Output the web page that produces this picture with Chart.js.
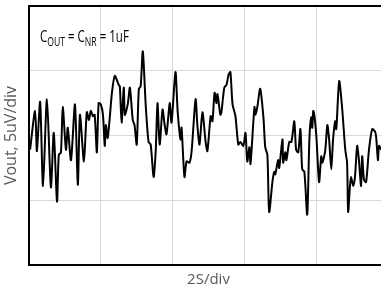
<!DOCTYPE html>
<html>
<head>
<meta charset="utf-8">
<script src="https://cdn.jsdelivr.net/npm/chart.js@4/dist/chart.umd.min.js"></script>
<style>
html,body{margin:0;padding:0;background:#fff;overflow:hidden;width:381px;height:293px;}
#wrap{position:absolute;left:0;top:0;width:400px;height:293px;}
</style>
</head>
<body>
<div id="wrap"><canvas id="c" width="400" height="293"></canvas></div>
<script>
// Time (s) and output noise voltage (uV)
const timeS = [0.03,0.17,0.22,0.31,0.39,0.50,0.61,0.69,0.78,0.83,0.89,0.94,1.03,1.08,1.17,1.28,1.36,1.42,1.53,1.61,1.67,1.72,1.78,1.83,1.89,1.94,2.00,2.06,2.11,2.14,2.19,2.25,2.31,2.39,2.50,2.53,2.58,2.64,2.67,2.75,2.81,2.89,2.94,3.00,3.06,3.11,3.17,3.25,3.33,3.39,3.47,3.53,3.58,3.64,3.72,3.78,3.83,3.92,3.97,4.08,4.14,4.22,4.25,4.33,4.39,4.47,4.53,4.64,4.69,4.75,4.83,4.92,4.97,5.06,5.11,5.17,5.22,5.25,5.33,5.36,5.44,5.50,5.56,5.61,5.67,5.75,5.83,5.89,5.97,6.03,6.08,6.14,6.17,6.28,6.31,6.36,6.44,6.53,6.58,6.64,6.69,6.78,6.83,6.86,6.94,6.97,7.06,7.08,7.14,7.17,7.25,7.31,7.39,7.44,7.50,7.56,7.61,7.67,7.75,7.81,7.86,7.89,7.92,8.00,8.08,8.14,8.17,8.25,8.31,8.36,8.42,8.47,8.53,8.56,8.64,8.72,8.81,8.86,8.89,8.94,8.97,9.03,9.08,9.14,9.19,9.25,9.28,9.33,9.39,9.47,9.56,9.64,9.67,9.72,9.75,9.81];
const voutUV = [-1.1,1.9,-1.2,2.6,-3.9,2.8,-4.0,0.2,-5.1,-1.5,-1.3,2.2,-1.1,0.6,-1.9,2.4,-3.8,1.6,-2.0,1.8,1.2,1.9,1.5,1.6,-1.3,2.5,2.4,1.6,-0.8,0.8,-0.2,1.4,3.3,4.6,3.9,3.8,1.0,3.7,1.6,2.4,3.7,1.2,0.8,-0.7,3.6,3.8,6.5,2.4,-0.5,-0.7,-3.2,-1.2,2.5,-0.7,2.0,0.8,0.1,2.5,1.0,4.9,1.9,-0.3,0.6,-3.2,-2.0,-2.1,-1.2,2.8,0.8,-0.7,1.8,-0.5,-1.2,1.5,1.1,3.3,2.5,3.2,1.6,1.8,3.7,3.9,4.7,4.9,2.4,1.5,-0.7,-0.5,-0.8,0.2,-2.0,-0.9,-2.2,2.2,1.6,2.2,3.6,1.4,-0.9,-1.5,-5.9,-3.6,-2.8,-3.0,-1.9,-2.5,-0.3,-2.1,-1.3,-1.9,-0.5,-0.5,1.1,-1.1,-1.3,0.5,-2.6,-2.8,-6.1,-0.3,1.4,0.6,1.9,0.1,-3.6,-1.6,-2.1,-1.2,0.8,-0.3,-2.6,-0.3,1.1,0.5,4.2,2.2,-1.1,-2.1,-5.9,-3.9,-3.2,-3.9,-3.2,-0.8,-1.9,-3.9,-1.6,-3.4,-3.6,-1.1,0.5,0.3,-0.1,-1.9,-0.8,-1.1];
const xTitle = "2S/div";
const yTitle = "Vout, 5uV/div";
const noteParts = [["C",false],["OUT",true],[" = C",false],["NR",true],[" = 1uF",false]];

const points = timeS.map((t,i)=>({x:t,y:voutUV[i]}));
const FONT = "'Open Sans', 'Liberation Sans', sans-serif";

const boxPlugin = {
  id:'box',
  afterDraw(chart){
    const {ctx, chartArea:a} = chart;
    ctx.save();
    ctx.strokeStyle = '#000';
    ctx.lineWidth = 2;
    ctx.strokeRect(a.left, a.top, a.right-a.left, a.bottom-a.top);
    // annotation (narrow, Calibri-like proportions)
    ctx.translate(a.left + 11, a.top + 36);
    ctx.scale(0.72, 1);
    let x = 0;
    ctx.fillStyle = '#000';
    ctx.textBaseline = 'alphabetic';
    for (const [s,sub] of noteParts){
      ctx.font = (sub ? '12px ' : '16px ') + FONT;
      ctx.fillText(s, x, sub ? 3.5 : 0);
      x += ctx.measureText(s).width;
    }
    ctx.restore();
  }
};

new Chart(document.getElementById('c'), {
  type:'line',
  data:{datasets:[{data:points,borderColor:'#000',borderWidth:2,pointRadius:0,tension:0.25,fill:false}]},
  options:{
    responsive:false,
    animation:false,
    layout:{padding:{top:6,right:12,left:0,bottom:0}},
    plugins:{legend:{display:false},tooltip:{enabled:false}},
    scales:{
      x:{type:'linear',min:0,max:10,
        ticks:{display:false,stepSize:2},
        grid:{color:'#d9d9d9',lineWidth:1,drawTicks:false},
        border:{display:true,color:'#000',width:2},
        title:{display:true,text:xTitle,color:'#595959',font:{family:FONT,size:15},padding:{top:4,bottom:4}},
        afterFit(s){s.height=28;}
      },
      y:{min:-10,max:10,
        ticks:{display:false,stepSize:5},
        grid:{color:'#d9d9d9',lineWidth:1,drawTicks:false},
        border:{display:true,color:'#000',width:2},
        title:{display:true,text:yTitle,color:'#595959',font:{family:FONT,size:16},padding:{top:2,bottom:2}},
        afterFit(s){s.width=29;}
      }
    }
  },
  plugins:[boxPlugin]
});
</script>
</body>
</html>
